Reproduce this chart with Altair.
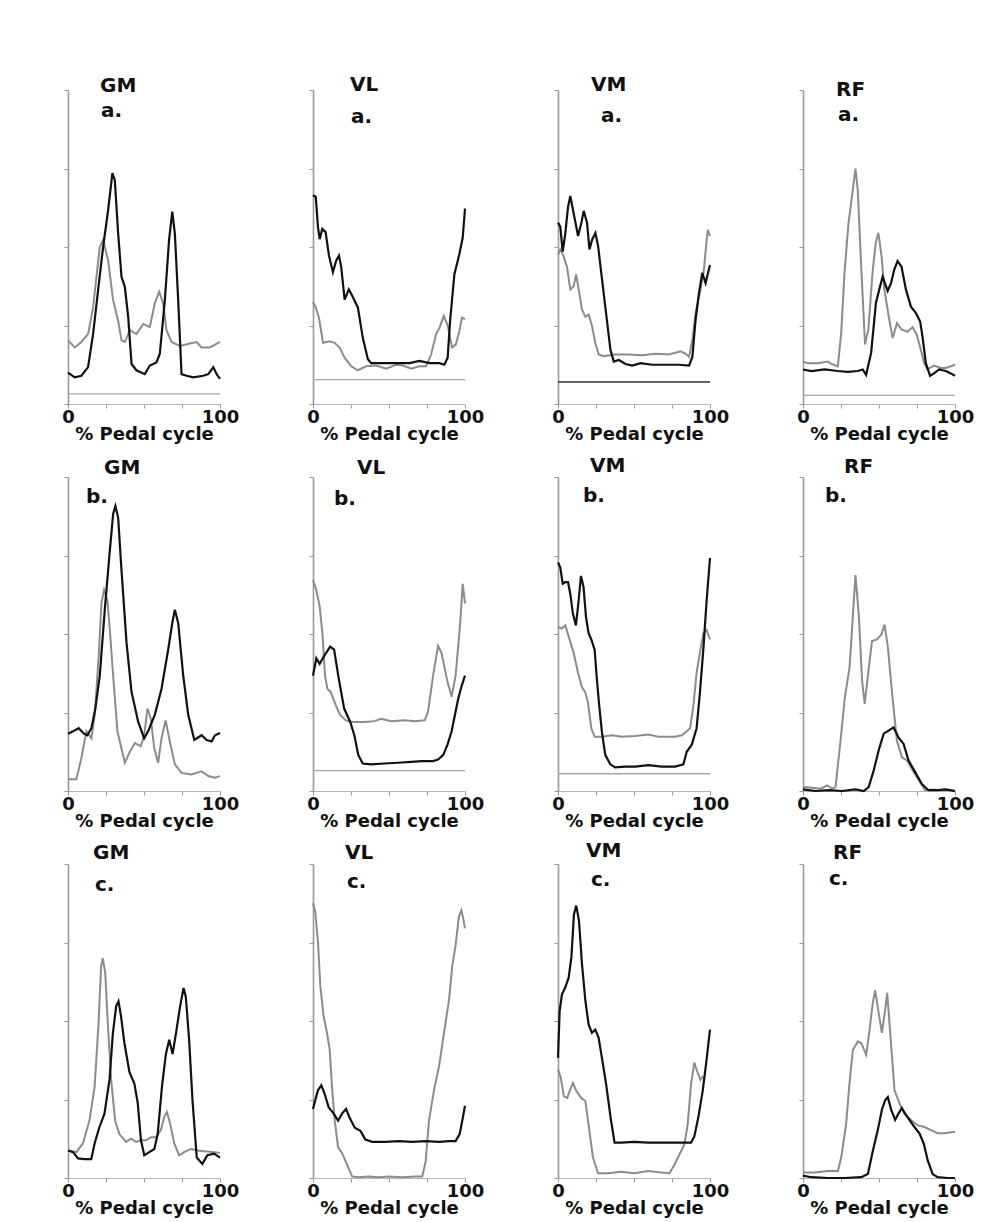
import altair as alt
import pandas as pd

# ---------------- data (x = % pedal cycle, y = EMG, axis units 0..4) ----------------
# GM a
gm_a_black_x = [0, 4.4, 8.8, 13.2, 16.5, 19.8, 23.1, 26.4, 29.2, 30.8, 33, 35.2, 37.4, 39.6, 41.8, 45, 50.5, 53.8, 58.2, 60.4, 63.7, 66.5, 68.6, 70.3, 72.5, 74.7, 78, 82.4, 89, 92.3, 95.6, 97.8, 100]
gm_a_black_y = [0.40, 0.34, 0.36, 0.47, 0.89, 1.45, 2.0, 2.47, 2.94, 2.85, 2.17, 1.62, 1.49, 1.11, 0.51, 0.43, 0.38, 0.49, 0.53, 0.64, 1.32, 2.09, 2.45, 2.17, 1.32, 0.38, 0.36, 0.34, 0.36, 0.38, 0.47, 0.38, 0.32]
gm_a_gray_x = [0, 4.4, 8.8, 13.2, 16.5, 20.9, 23.1, 26.4, 29.7, 33, 35.2, 37.4, 40.7, 45, 49.5, 53.8, 57.1, 60, 62.6, 64.8, 68.1, 73.6, 80.2, 84.6, 87.9, 93.4, 100]
gm_a_gray_y = [0.81, 0.72, 0.79, 0.89, 1.23, 2.0, 2.09, 1.83, 1.32, 1.06, 0.81, 0.79, 0.94, 0.89, 1.02, 0.98, 1.28, 1.43, 1.28, 0.94, 0.79, 0.74, 0.77, 0.79, 0.72, 0.72, 0.79]

# VL a
vl_a_black_x = [0, 1.8, 3.3, 4.4, 6.1, 8.3, 10.5, 13.1, 15.3, 17.1, 18.6, 20.8, 23.6, 26.3, 29.5, 32.8, 36.1, 38.3, 46, 54.7, 63.5, 70, 76.6, 83.2, 86.4, 88.6, 90.2, 93, 96.3, 98.5, 100]
vl_a_black_y = [2.66, 2.64, 2.25, 2.10, 2.23, 2.19, 1.89, 1.68, 1.83, 1.89, 1.74, 1.33, 1.46, 1.36, 1.23, 0.84, 0.57, 0.52, 0.52, 0.52, 0.52, 0.55, 0.52, 0.52, 0.50, 0.59, 1.06, 1.65, 1.91, 2.12, 2.49]
vl_a_gray_x = [0, 1.8, 3.9, 6.6, 10.9, 14.2, 17.5, 20.8, 25.2, 29.5, 35, 41.6, 48.1, 54.7, 59.1, 64.6, 70, 74.4, 77.7, 81, 83.2, 86, 88.6, 91.5, 94, 96.3, 98, 100]
vl_a_gray_y = [1.30, 1.23, 1.10, 0.78, 0.80, 0.78, 0.72, 0.59, 0.48, 0.43, 0.48, 0.49, 0.45, 0.50, 0.49, 0.45, 0.48, 0.48, 0.63, 0.89, 0.97, 1.12, 1.00, 0.72, 0.76, 0.93, 1.10, 1.08]

# VM a
vm_a_black_x = [0, 1.5, 3.1, 4.8, 6.6, 8.1, 10.3, 13.2, 15.4, 16.9, 19.1, 20.7, 22.4, 24.6, 26.4, 29, 31.6, 34.5, 36.7, 40, 44.4, 48.8, 54.3, 62, 70.8, 79.6, 86.2, 88.4, 90.5, 92.7, 94.9, 97.1, 98.7, 100]
vm_a_black_y = [2.31, 2.26, 1.94, 2.17, 2.51, 2.65, 2.43, 2.14, 2.31, 2.46, 2.31, 1.97, 2.09, 2.18, 2.01, 1.58, 1.16, 0.69, 0.54, 0.56, 0.51, 0.49, 0.52, 0.50, 0.50, 0.50, 0.49, 0.60, 1.07, 1.41, 1.67, 1.54, 1.67, 1.77]
vm_a_gray_x = [0, 1.5, 3.7, 5.9, 8.1, 10.3, 11.9, 13.6, 15.8, 18, 20.2, 22.4, 24.6, 26.8, 30.1, 37.8, 46.6, 55.4, 64.2, 73, 80.7, 84, 86.2, 88.4, 90.5, 93.8, 96, 97.8, 98.5, 100]
vm_a_gray_y = [1.90, 1.97, 1.88, 1.75, 1.46, 1.50, 1.65, 1.46, 1.20, 1.11, 1.14, 0.99, 0.77, 0.63, 0.61, 0.63, 0.63, 0.62, 0.64, 0.63, 0.67, 0.64, 0.60, 0.82, 1.16, 1.46, 1.71, 2.09, 2.22, 2.14]

# RF a
rf_a_black_x = [0, 5.5, 14.2, 22.9, 29.5, 36, 39.3, 41.5, 44.8, 48, 50.2, 52.4, 55.7, 57.9, 60, 62.2, 64.8, 67.7, 71, 74.2, 77.1, 78.6, 80.8, 83.6, 86.2, 89.5, 93.9, 97.2, 100]
rf_a_black_y = [0.44, 0.42, 0.44, 0.42, 0.41, 0.42, 0.44, 0.37, 0.65, 1.29, 1.46, 1.62, 1.44, 1.54, 1.71, 1.82, 1.75, 1.46, 1.24, 1.16, 1.05, 0.86, 0.52, 0.36, 0.39, 0.44, 0.42, 0.39, 0.36]
rf_a_gray_x = [0, 3.3, 9.8, 16.4, 18.6, 22.9, 25.1, 27.3, 29.9, 32.8, 34.5, 36, 38.2, 40.8, 43, 45.9, 48, 49.6, 51.7, 53.5, 56.8, 59, 61.8, 64.8, 68.8, 72.1, 74.9, 77.5, 79.7, 81.9, 86.2, 90.6, 93.9, 97.2, 100]
rf_a_gray_y = [0.54, 0.52, 0.52, 0.54, 0.51, 0.48, 0.90, 1.67, 2.30, 2.73, 3.00, 2.73, 1.79, 0.76, 0.95, 1.71, 2.07, 2.18, 1.88, 1.46, 1.07, 0.84, 1.03, 0.95, 0.92, 0.98, 0.88, 0.69, 0.52, 0.44, 0.49, 0.46, 0.46, 0.48, 0.50]

# GM b
gm_b_black_x = [0, 3.3, 7, 10.5, 12.7, 15.4, 18, 20.9, 24.2, 27.5, 29.7, 31.2, 33, 35.2, 38.5, 41.8, 46.2, 50.1, 52.7, 57.1, 61.5, 65.9, 68.6, 70.3, 72.5, 75.8, 79.1, 83.1, 87.9, 91.2, 94.5, 96.7, 100]
gm_b_black_y = [0.73, 0.76, 0.80, 0.73, 0.71, 0.80, 1.05, 1.47, 2.31, 3.06, 3.53, 3.63, 3.48, 2.81, 1.89, 1.26, 0.88, 0.67, 0.76, 0.97, 1.30, 1.80, 2.14, 2.31, 2.14, 1.47, 0.97, 0.65, 0.71, 0.65, 0.63, 0.71, 0.74]
gm_b_gray_x = [0, 5.5, 8.8, 12.1, 15.4, 17.6, 20.2, 22, 23.7, 25.9, 27.5, 29.7, 32.5, 37.4, 40.7, 44, 47.9, 50.1, 52.3, 54.5, 56.7, 59.3, 61.5, 64.2, 67, 70.3, 74.7, 81.3, 87.9, 92.3, 96.7, 100]
gm_b_gray_y = [0.15, 0.15, 0.42, 0.76, 0.67, 0.97, 1.72, 2.39, 2.56, 2.43, 2.06, 1.47, 0.76, 0.36, 0.50, 0.61, 0.57, 0.71, 1.05, 0.92, 0.55, 0.36, 0.67, 0.90, 0.63, 0.34, 0.23, 0.21, 0.25, 0.19, 0.17, 0.19]

# VL b
vl_b_black_x = [0, 2.2, 4.4, 7.3, 11.3, 13.9, 16.6, 20.5, 24.5, 27.2, 29.8, 32.7, 38.2, 47, 55.8, 64.7, 71.3, 79, 82.3, 85.7, 88.5, 91.2, 93.8, 95.6, 97.8, 100]
vl_b_black_y = [1.47, 1.69, 1.62, 1.72, 1.84, 1.80, 1.47, 1.05, 0.88, 0.71, 0.46, 0.35, 0.34, 0.35, 0.36, 0.37, 0.38, 0.38, 0.40, 0.46, 0.59, 0.76, 1.01, 1.18, 1.34, 1.47]
vl_b_gray_x = [0, 2.2, 4.4, 6.2, 7.9, 9.5, 11.7, 15, 17.9, 21.6, 26, 33.8, 40.4, 44.8, 51.4, 60.3, 66.9, 73.5, 75.7, 79, 82.3, 84.5, 88.5, 91.2, 93.8, 96.7, 98.5, 100]
vl_b_gray_y = [2.69, 2.56, 2.35, 2.01, 1.47, 1.30, 1.26, 1.09, 0.97, 0.90, 0.88, 0.88, 0.89, 0.92, 0.89, 0.90, 0.89, 0.90, 1.01, 1.47, 1.85, 1.76, 1.39, 1.20, 1.47, 2.10, 2.64, 2.39]

# VM b
vm_b_black_x = [0, 1.5, 3.1, 4.8, 6.6, 8.1, 9.8, 11.8, 13.6, 15.1, 16.8, 18.4, 20.1, 21.9, 24.1, 25.6, 27.1, 28.9, 31.1, 34.4, 37.6, 44.2, 50.8, 59.5, 68.3, 77, 82.5, 84.7, 88, 91.2, 93.4, 95.6, 97.8, 100]
vm_b_black_y = [2.91, 2.85, 2.64, 2.66, 2.66, 2.51, 2.26, 2.11, 2.43, 2.74, 2.60, 2.22, 2.01, 1.93, 1.80, 1.42, 1.09, 0.75, 0.46, 0.34, 0.30, 0.31, 0.31, 0.33, 0.31, 0.31, 0.34, 0.50, 0.59, 0.80, 1.26, 1.80, 2.43, 2.97]
vm_b_gray_x = [0, 2.6, 4.8, 7, 10.3, 13.1, 15.8, 17.9, 19.7, 21.9, 24.1, 28.9, 35.4, 42, 50.8, 59.5, 66.1, 77, 81.4, 84.7, 86.9, 89.1, 91.2, 93.4, 95.6, 97.8, 100]
vm_b_gray_y = [2.09, 2.07, 2.11, 1.97, 1.76, 1.51, 1.32, 1.26, 1.13, 0.80, 0.69, 0.69, 0.71, 0.69, 0.70, 0.72, 0.69, 0.69, 0.71, 0.76, 0.80, 1.09, 1.51, 1.76, 2.01, 2.05, 1.93]

# RF b
rf_b_black_x = [0, 8.3, 17, 25.8, 34.5, 40, 43.2, 46.5, 49.8, 53.1, 56.3, 59.6, 62.9, 66.2, 69.4, 73.8, 78.2, 82.5, 89.1, 93.4, 100]
rf_b_black_y = [0.02, 0.0, 0.01, 0.0, 0.02, 0.0, 0.05, 0.26, 0.52, 0.73, 0.77, 0.81, 0.68, 0.60, 0.39, 0.24, 0.09, 0.01, 0.01, 0.02, 0.0]
rf_b_gray_x = [0, 6.1, 11.6, 15.9, 19.2, 21.4, 24.7, 27.5, 30.6, 32.3, 34.5, 36.7, 38.9, 40.6, 42.8, 45.4, 48.7, 51.5, 53.7, 55.9, 58.5, 61.8, 65.1, 68.3, 71.6, 76, 80.3, 84.7, 91.3, 95.6, 100]
rf_b_gray_y = [0.05, 0.04, 0.03, 0.07, 0.03, 0.05, 0.64, 1.19, 1.57, 2.07, 2.75, 2.24, 1.40, 1.11, 1.49, 1.91, 1.93, 1.99, 2.12, 1.82, 1.27, 0.64, 0.43, 0.39, 0.28, 0.14, 0.01, 0.02, 0.01, 0.02, 0.0]

# GM c
gm_c_black_x = [0, 3.3, 6.6, 10.9, 15.3, 17.5, 20.7, 24, 27.3, 29.5, 31.7, 33.2, 34.9, 37.1, 40.4, 43.7, 45.9, 48, 50.2, 53.5, 56.8, 59, 61.8, 64.4, 66.6, 68.8, 71, 73.8, 76, 77.5, 79.7, 81.9, 84.7, 88.4, 91.7, 96.1, 100]
gm_c_black_y = [0.35, 0.33, 0.25, 0.24, 0.24, 0.44, 0.65, 0.82, 1.25, 1.84, 2.19, 2.25, 2.06, 1.72, 1.35, 1.20, 0.95, 0.48, 0.29, 0.33, 0.37, 0.56, 1.16, 1.58, 1.76, 1.58, 1.84, 2.19, 2.42, 2.31, 1.76, 0.99, 0.26, 0.18, 0.29, 0.31, 0.26]
gm_c_gray_x = [0, 5.5, 9.8, 14.2, 17.5, 20.1, 21.8, 22.9, 24.5, 26.2, 28.4, 31, 33.8, 38.2, 41.5, 44.8, 48, 51.3, 54.6, 57.9, 61.1, 63.3, 65.1, 67.2, 69.9, 73.1, 76.4, 80.8, 85.2, 89.5, 95, 100]
gm_c_gray_y = [0.35, 0.33, 0.44, 0.74, 1.16, 1.97, 2.70, 2.80, 2.61, 1.97, 1.25, 0.73, 0.56, 0.46, 0.50, 0.46, 0.48, 0.48, 0.52, 0.52, 0.61, 0.78, 0.84, 0.69, 0.44, 0.29, 0.33, 0.37, 0.35, 0.34, 0.33, 0.32]

# VL c
vl_c_black_x = [0, 1.5, 3.3, 5.5, 7.7, 10.3, 13.6, 16.5, 19.1, 21.8, 24, 27.5, 31.2, 34.5, 38.9, 47.7, 56.5, 65.3, 74.1, 82.9, 89.5, 93.8, 96.5, 98.2, 100]
vl_c_black_y = [0.88, 0.99, 1.12, 1.18, 1.07, 0.90, 0.82, 0.73, 0.82, 0.88, 0.77, 0.64, 0.60, 0.49, 0.46, 0.46, 0.47, 0.46, 0.47, 0.46, 0.47, 0.47, 0.56, 0.73, 0.92]
vl_c_gray_x = [0, 1.5, 3.3, 4.8, 7, 9.2, 11, 12.5, 14.3, 16.5, 19.1, 22.4, 25.7, 30.1, 36.7, 43.3, 49.9, 58.7, 67.5, 71.9, 74.1, 76.3, 79.6, 82.9, 86.2, 89.5, 91.6, 93.8, 96, 97.6, 98.9, 100]
vl_c_gray_y = [3.50, 3.39, 3.00, 2.45, 2.06, 1.85, 1.63, 1.16, 0.73, 0.39, 0.32, 0.17, 0.02, 0.01, 0.02, 0.01, 0.02, 0.01, 0.02, 0.02, 0.21, 0.73, 1.12, 1.42, 1.85, 2.27, 2.70, 2.96, 3.33, 3.41, 3.30, 3.18]

# VM c
vm_c_black_x = [0, 1.1, 2.6, 4.8, 7, 8.8, 10.5, 12, 13.8, 15.8, 18, 20.1, 22.3, 24.5, 26.7, 28.9, 31.7, 34.6, 37.2, 41.6, 50.3, 59.1, 67.8, 76.6, 83.2, 87.5, 89.7, 92.3, 95.2, 97.4, 100]
vm_c_black_y = [1.53, 2.13, 2.34, 2.43, 2.55, 2.81, 3.36, 3.47, 3.28, 2.72, 2.26, 1.96, 1.85, 1.89, 1.79, 1.53, 1.19, 0.77, 0.45, 0.45, 0.46, 0.45, 0.45, 0.45, 0.45, 0.45, 0.53, 0.77, 1.11, 1.45, 1.89]
vm_c_gray_x = [0, 1.8, 3.9, 6.1, 7.7, 9.8, 12, 15.3, 18, 20.1, 23, 26.3, 32.8, 41.6, 50.3, 59.1, 67.8, 73.3, 76.6, 79.9, 83.2, 85.3, 87.5, 89.7, 91.5, 93.7, 95.5]
vm_c_gray_y = [1.38, 1.28, 1.04, 1.02, 1.11, 1.21, 1.11, 1.02, 0.98, 0.68, 0.26, 0.06, 0.06, 0.08, 0.06, 0.09, 0.07, 0.06, 0.17, 0.30, 0.43, 0.68, 1.19, 1.47, 1.36, 1.25, 1.30]

# RF c
rf_c_black_x = [0, 5.5, 16.4, 27.4, 38.3, 42.7, 46, 49.2, 51.9, 54, 55.8, 58, 60.6, 62.8, 65, 67.2, 70, 73.3, 76.6, 79.4, 82.1, 85.3, 88.6, 95.2, 100]
rf_c_black_y = [0.03, 0.01, 0.0, 0.0, 0.01, 0.05, 0.35, 0.61, 0.87, 0.99, 1.03, 0.87, 0.74, 0.82, 0.89, 0.82, 0.74, 0.65, 0.57, 0.44, 0.22, 0.05, 0.01, 0.0, 0.0]
rf_c_gray_x = [0, 7.7, 16.4, 23, 25.2, 28.4, 30.6, 32.8, 36.1, 38.3, 41.6, 43.8, 46, 47.5, 49.7, 51.9, 54.1, 55.4, 57.5, 60.2, 63.5, 66.7, 71.1, 75.5, 79.9, 84.2, 88.6, 93, 100]
rf_c_gray_y = [0.07, 0.07, 0.09, 0.09, 0.27, 0.69, 1.21, 1.63, 1.74, 1.72, 1.57, 1.89, 2.24, 2.39, 2.11, 1.85, 2.15, 2.36, 1.81, 1.12, 0.95, 0.82, 0.74, 0.67, 0.65, 0.61, 0.57, 0.57, 0.59]

muscles = ["GM", "VL", "VM", "RF"]
conditions = ["a.", "b.", "c."]
# horizontal reference line per panel
baselines = {("GM", "a."): 0.13, ("VL", "a."): 0.31, ("VM", "a."): 0.28, ("RF", "a."): 0.11,
             ("VL", "b."): 0.26, ("VM", "b."): 0.22}

series = {
    ("GM", "a."): (gm_a_black_x, gm_a_black_y, gm_a_gray_x, gm_a_gray_y),
    ("VL", "a."): (vl_a_black_x, vl_a_black_y, vl_a_gray_x, vl_a_gray_y),
    ("VM", "a."): (vm_a_black_x, vm_a_black_y, vm_a_gray_x, vm_a_gray_y),
    ("RF", "a."): (rf_a_black_x, rf_a_black_y, rf_a_gray_x, rf_a_gray_y),
    ("GM", "b."): (gm_b_black_x, gm_b_black_y, gm_b_gray_x, gm_b_gray_y),
    ("VL", "b."): (vl_b_black_x, vl_b_black_y, vl_b_gray_x, vl_b_gray_y),
    ("VM", "b."): (vm_b_black_x, vm_b_black_y, vm_b_gray_x, vm_b_gray_y),
    ("RF", "b."): (rf_b_black_x, rf_b_black_y, rf_b_gray_x, rf_b_gray_y),
    ("GM", "c."): (gm_c_black_x, gm_c_black_y, gm_c_gray_x, gm_c_gray_y),
    ("VL", "c."): (vl_c_black_x, vl_c_black_y, vl_c_gray_x, vl_c_gray_y),
    ("VM", "c."): (vm_c_black_x, vm_c_black_y, vm_c_gray_x, vm_c_gray_y),
    ("RF", "c."): (rf_c_black_x, rf_c_black_y, rf_c_gray_x, rf_c_gray_y),
}

# ---------------- layout / style ----------------
W, H = 152, 314
FONT = "DejaVu Sans"
# label positions relative to plot area: (name_dx, name_dy, letter_dx, letter_dy)
label_pos = {
    ("GM", "a."): (32, 2, 33, 27), ("VL", "a."): (37, 1, 38, 33),
    ("VM", "a."): (33, 1, 43, 32), ("RF", "a."): (33, 6, 35, 31),
    ("GM", "b."): (36, -3, 18, 26), ("VL", "b."): (44, -3, 21, 28),
    ("VM", "b."): (32, -5, 25, 25), ("RF", "b."): (41, -4, 22, 25),
    ("GM", "c."): (25, -5, 27, 27), ("VL", "c."): (32, -5, 34, 24),
    ("VM", "c."): (28, -7, 33, 22), ("RF", "c."): (30, -5, 26, 21),
}
baseline_color = {("VM", "a."): "#333333"}

x_enc = alt.X("pct:Q", scale=alt.Scale(domain=[0, 100], nice=False),
              axis=alt.Axis(values=[0, 25, 50, 75, 100], grid=False,
                            labelExpr="datum.value == 0 || datum.value == 100 ? datum.label : ''",
                            labelFlush=False, labelFont=FONT, labelFontSize=18, labelFontWeight="bold",
                            labelColor="#111111", labelPadding=0, tickSize=4, tickColor="#999999",
                            domainColor="#b5b5b5", domainWidth=1.2,
                            title="% Pedal cycle", titleFont=FONT, titleFontSize=18,
                            titleFontWeight="bold", titleColor="#111111", titlePadding=-1))
y_enc = alt.Y("emg:Q", scale=alt.Scale(domain=[0, 4], nice=False),
              axis=alt.Axis(values=[0, 1, 2, 3, 4], labels=False, title=None, grid=False,
                            tickSize=4, tickColor="#999999", domainColor="#999999", domainWidth=1.6))


def panel(m, c):
    bx, by, gx, gy = series[(m, c)]
    black = pd.DataFrame({"pct": bx, "emg": by})
    gray = pd.DataFrame({"pct": gx, "emg": gy})
    layers = []
    layers.append(alt.Chart(gray).mark_line(color="#8c8c8c", strokeWidth=2).encode(x=x_enc, y=y_enc))
    if (m, c) in baselines:
        bl = pd.DataFrame({"emg": [baselines[(m, c)]]})
        layers.append(alt.Chart(bl).mark_rule(color=baseline_color.get((m, c), "#a8a8a8"),
                                              strokeWidth=1.3).encode(y=y_enc))
    layers.append(alt.Chart(black).mark_line(color="#111111", strokeWidth=2.2).encode(x=x_enc, y=y_enc))
    ndx, ndy, ldx, ldy = label_pos[(m, c)]
    layers.append(alt.Chart(pd.DataFrame({"t": [m]})).mark_text(
        align="left", baseline="alphabetic", font=FONT, fontSize=20, fontWeight="bold", color="#111111"
    ).encode(x=alt.value(ndx), y=alt.value(ndy), text="t:N"))
    layers.append(alt.Chart(pd.DataFrame({"t": [c]})).mark_text(
        align="left", baseline="alphabetic", font=FONT, fontSize=20, fontWeight="bold", color="#111111"
    ).encode(x=alt.value(ldx), y=alt.value(ldy), text="t:N"))
    return alt.layer(*layers).properties(
        width=W, height=H, view=alt.ViewBackground(stroke="transparent", strokeWidth=0)
    )


panels = [panel(m, c) for c in conditions for m in muscles]

chart = alt.concat(*panels, columns=4, spacing={"row": 73, "column": 93}, bounds="flush").properties(
    padding={"left": 53, "top": 67, "right": 10, "bottom": 5}, background="white"
).configure_view(stroke="transparent", strokeWidth=0, strokeOpacity=0)

chart.save("out.html", embed_options={"renderer": "svg", "actions": False})
